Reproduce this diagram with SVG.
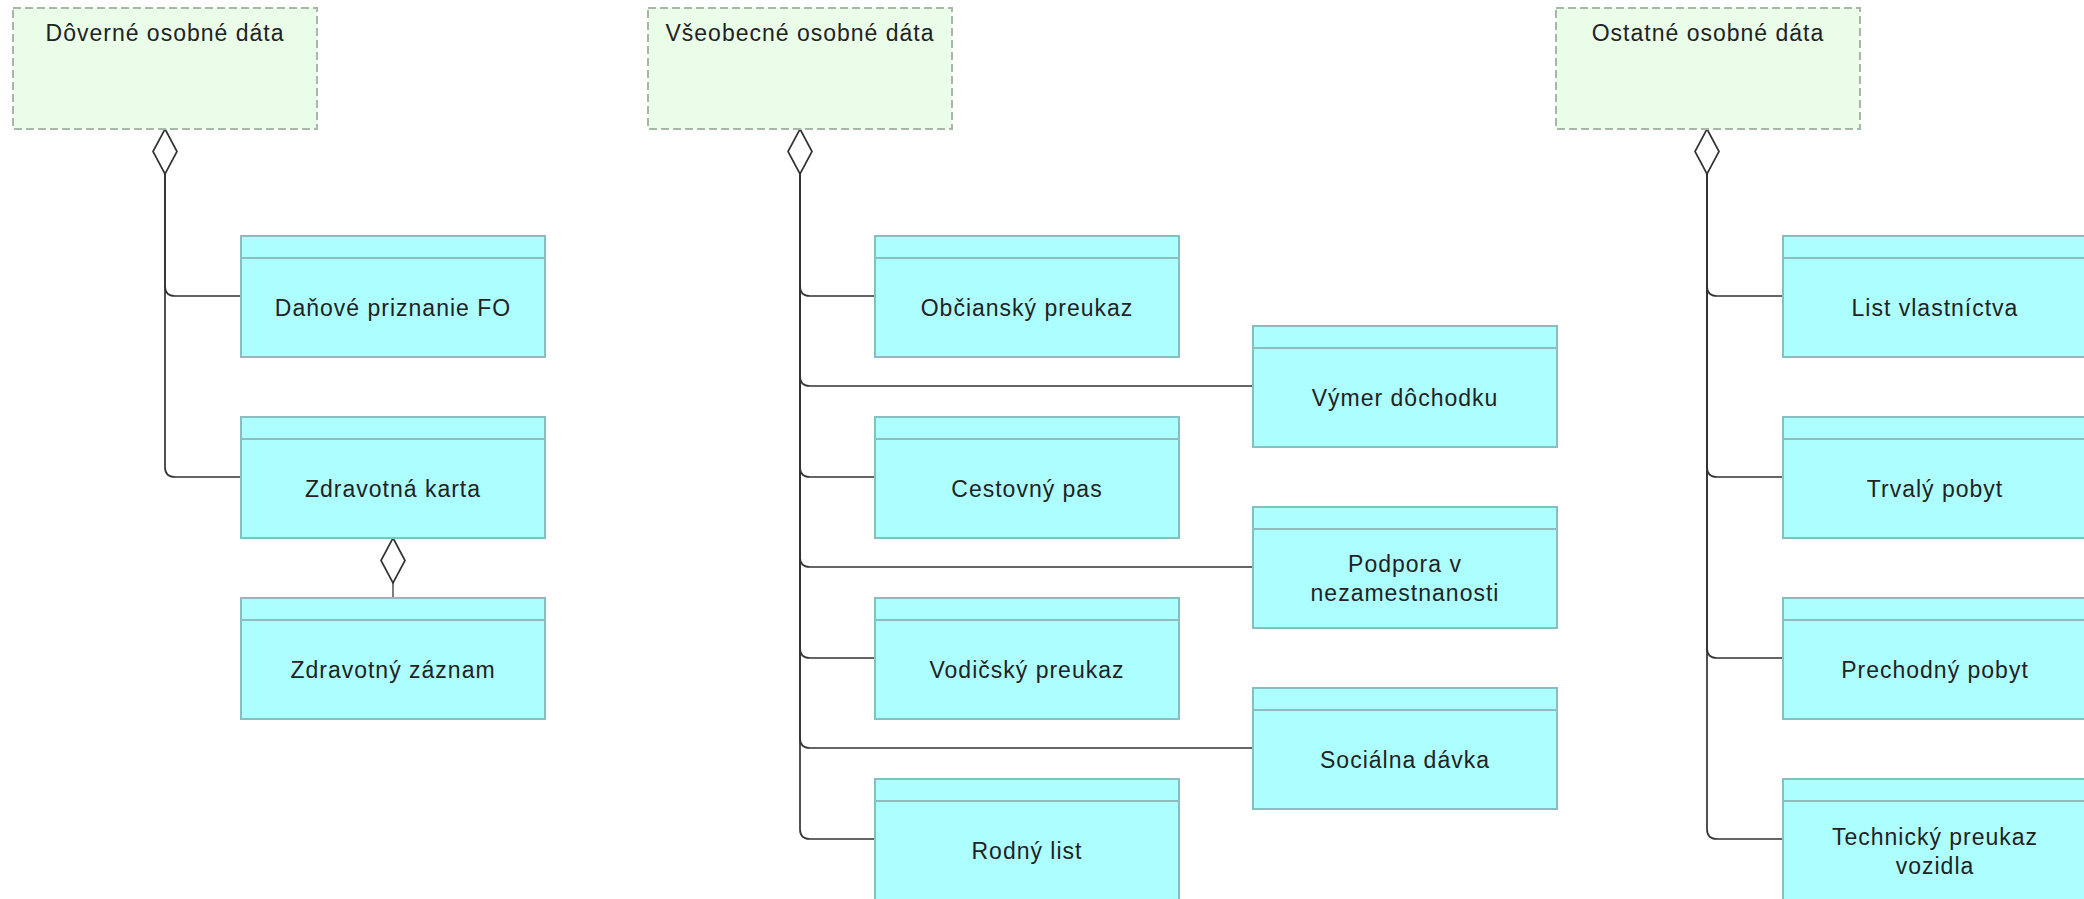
<svg xmlns="http://www.w3.org/2000/svg" width="2084" height="899" viewBox="0 0 2084 899">
<style>
.grp{fill:#E9FDE9;stroke:#A8B8A8;stroke-width:2;stroke-dasharray:8 4}
.box{fill:#ADFFFF;stroke:#86BFBF;stroke-width:2}
.hdr{stroke:#8FBDBD;stroke-width:2}
.t{font-family:"Liberation Sans",Arial,sans-serif;font-size:23px;letter-spacing:1px;fill:#222;text-anchor:middle}
.c{fill:none;stroke:#333;stroke-width:1.7}
.dia{fill:#fff;stroke:#333;stroke-width:1.7}
</style>
<rect width="2084" height="899" fill="#fff"/>
<g id="connectors">
<path class="c" d="M165,174 V286 Q165,296 175,296 H241"/>
<path class="c" d="M165,174 V467 Q165,477 175,477 H241"/>
<path class="dia" d="M165,129 L177,151.5 L165,174 L153,151.5 Z"/>
<path d="M393,583 V598" fill="none" stroke="#666" stroke-width="1.7"/>
<path class="dia" d="M393,538 L405,560.5 L393,583 L381,560.5 Z"/>
<path class="c" d="M800,174 V286 Q800,296 810,296 H875"/>
<path class="c" d="M800,174 V376 Q800,386 810,386 H1253"/>
<path class="c" d="M800,174 V467 Q800,477 810,477 H875"/>
<path class="c" d="M800,174 V557 Q800,567 810,567 H1253"/>
<path class="c" d="M800,174 V648 Q800,658 810,658 H875"/>
<path class="c" d="M800,174 V738 Q800,748 810,748 H1253"/>
<path class="c" d="M800,174 V829 Q800,839 810,839 H875"/>
<path class="dia" d="M800,129 L812,151.5 L800,174 L788,151.5 Z"/>
<path class="c" d="M1707,174 V286 Q1707,296 1717,296 H1783"/>
<path class="c" d="M1707,174 V467 Q1707,477 1717,477 H1783"/>
<path class="c" d="M1707,174 V648 Q1707,658 1717,658 H1783"/>
<path class="c" d="M1707,174 V829 Q1707,839 1717,839 H1783"/>
<path class="dia" d="M1707,129 L1719,151.5 L1707,174 L1695,151.5 Z"/>
</g>
<g id="doverne">
<rect class="grp" x="13" y="8" width="304" height="121"/>
<text class="t" x="165" y="41">Dôverné osobné dáta</text>
</g>
<g id="vseobecne">
<rect class="grp" x="648" y="8" width="304" height="121"/>
<text class="t" x="800" y="41">Všeobecné osobné dáta</text>
</g>
<g id="ostatne">
<rect class="grp" x="1556" y="8" width="304" height="121"/>
<text class="t" x="1708" y="41">Ostatné osobné dáta</text>
</g>
<g id="danove">
<rect class="box" x="241" y="236" width="304" height="121"/>
<line class="hdr" x1="241" y1="258" x2="545" y2="258"/>
<text class="t" x="393" y="316">Daňové priznanie FO</text>
</g>
<g id="zdravotna-karta">
<rect class="box" x="241" y="417" width="304" height="121"/>
<line class="hdr" x1="241" y1="439" x2="545" y2="439"/>
<text class="t" x="393" y="497">Zdravotná karta</text>
</g>
<g id="zdravotny-zaznam">
<rect class="box" x="241" y="598" width="304" height="121"/>
<line class="hdr" x1="241" y1="620" x2="545" y2="620"/>
<text class="t" x="393" y="678">Zdravotný záznam</text>
</g>
<g id="obciansky">
<rect class="box" x="875" y="236" width="304" height="121"/>
<line class="hdr" x1="875" y1="258" x2="1179" y2="258"/>
<text class="t" x="1027" y="316">Občianský preukaz</text>
</g>
<g id="cestovny">
<rect class="box" x="875" y="417" width="304" height="121"/>
<line class="hdr" x1="875" y1="439" x2="1179" y2="439"/>
<text class="t" x="1027" y="497">Cestovný pas</text>
</g>
<g id="vodicsky">
<rect class="box" x="875" y="598" width="304" height="121"/>
<line class="hdr" x1="875" y1="620" x2="1179" y2="620"/>
<text class="t" x="1027" y="678">Vodičský preukaz</text>
</g>
<g id="rodny">
<rect class="box" x="875" y="779" width="304" height="121"/>
<line class="hdr" x1="875" y1="801" x2="1179" y2="801"/>
<text class="t" x="1027" y="859">Rodný list</text>
</g>
<g id="vymer">
<rect class="box" x="1253" y="326" width="304" height="121"/>
<line class="hdr" x1="1253" y1="348" x2="1557" y2="348"/>
<text class="t" x="1405" y="406">Výmer dôchodku</text>
</g>
<g id="podpora">
<rect class="box" x="1253" y="507" width="304" height="121"/>
<line class="hdr" x1="1253" y1="529" x2="1557" y2="529"/>
<text class="t" x="1405" y="572">Podpora v</text>
<text class="t" x="1405" y="601">nezamestnanosti</text>
</g>
<g id="socialna">
<rect class="box" x="1253" y="688" width="304" height="121"/>
<line class="hdr" x1="1253" y1="710" x2="1557" y2="710"/>
<text class="t" x="1405" y="768">Sociálna dávka</text>
</g>
<g id="list">
<rect class="box" x="1783" y="236" width="304" height="121"/>
<line class="hdr" x1="1783" y1="258" x2="2087" y2="258"/>
<text class="t" x="1935" y="316">List vlastníctva</text>
</g>
<g id="trvaly">
<rect class="box" x="1783" y="417" width="304" height="121"/>
<line class="hdr" x1="1783" y1="439" x2="2087" y2="439"/>
<text class="t" x="1935" y="497">Trvalý pobyt</text>
</g>
<g id="prechodny">
<rect class="box" x="1783" y="598" width="304" height="121"/>
<line class="hdr" x1="1783" y1="620" x2="2087" y2="620"/>
<text class="t" x="1935" y="678">Prechodný pobyt</text>
</g>
<g id="technicky">
<rect class="box" x="1783" y="779" width="304" height="121"/>
<line class="hdr" x1="1783" y1="801" x2="2087" y2="801"/>
<text class="t" x="1935" y="845">Technický preukaz</text>
<text class="t" x="1935" y="874">vozidla</text>
</g>
</svg>
